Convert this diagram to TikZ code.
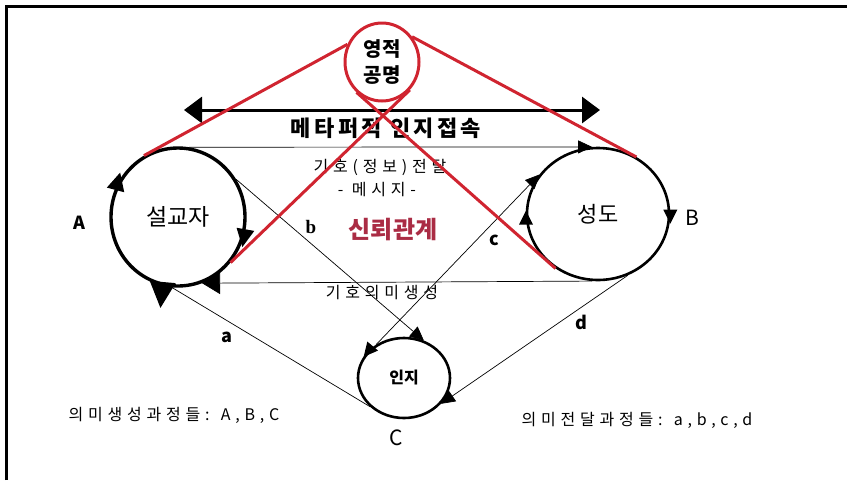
\documentclass[tikz,border=0pt]{standalone}
\usepackage{fontspec}
\setmainfont{Noto Sans CJK KR}
\newfontfamily\serifface{Liberation Serif}
\usepackage{tikz}
\usetikzlibrary{shapes.geometric,arrows.meta,positioning,calc}
\definecolor{spiritred}{RGB}{208,36,48}
\definecolor{trustred}{RGB}{170,44,68}

\begin{document}
\begin{tikzpicture}[x=1pt, y=-1pt,
  party/.style={draw, ellipse, line width=2.6pt, inner sep=0pt},
  tri/.style={isosceles triangle, isosceles triangle stretches, fill=black, inner sep=0pt, minimum width=#1, minimum height=#1},
  conn/.style={line width=0.7pt},
  tip/.style={-{Triangle[length=14pt, width=13pt]}},
  redline/.style={spiritred, line width=3pt},
  fsize/.style={font=\fontsize{#1}{#1}\selectfont},
  fbold/.style={font=\fontsize{#1}{#1}\selectfont\bfseries},
  spaced/.style 2 args={font=\fontsize{#1}{#1}\selectfont\addfontfeature{LetterSpace=#2}}
]

\useasboundingbox (0,0) rectangle (847,480);
\draw[line width=3pt] (6.5,480) -- (6.5,6.5) -- (847,6.5);

\node[party, line width=3.4pt, minimum width=134pt, minimum height=138pt, fsize=23] (A) at (178,217) {설교자};
\node[party, minimum width=142pt, minimum height=132pt, fsize=22] (B) at (598,214) {성도};
\node[party, minimum width=92pt, minimum height=80pt, fbold=16] (C) at (404,378) {인지};

\node[fbold=18] (labA) at (79,223) {A};
\node[fsize=21] (labB) at (692,218) {B};
\node[fsize=21] (labC) at (396,438) {C};

\draw[conn, tip] (A.81) -- (B.95);
\draw[conn, -{Triangle[length=18pt, width=22pt]}] (B.-95) -- (A.-70);
\draw[conn, tip] (A.33) -- (C.62);
\draw[conn, tip] (C.130) -- (B.146);
\draw[conn] (C.-140) -- (A.-95);
\draw[conn, tip] (B.-64) -- (C.-35);

\node[tri=18pt, rotate=75] (arA1) at (A.152) {};
\node[tri=18pt, rotate=-100] (arA2) at (A.-15) {};
\node[tri=26pt, rotate=-95] (arA3) at (162,290) {};
\node[tri=14pt, rotate=90] (arB1) at (B.185) {};
\node[tri=14pt, rotate=-90] (arB2) at (B.0) {};
\node[tri=14pt, rotate=-130] (arC1) at (C.140) {};

\node[fbold=18] (la) at (227,337) {a};
\node[font=\fontsize{19}{19}\selectfont\serifface\bfseries] (lb) at (311,227) {b};
\node[fbold=18] (lc) at (494,240) {c};
\node[fbold=18] (ld) at (581,322) {d};

\coordinate (metaL) at (184,110);
\coordinate (metaR) at (600,110);
\draw[line width=3pt, {Triangle[length=18pt, width=26pt]}-{Triangle[length=18pt, width=26pt]}] (metaL) -- (metaR);
\node[font=\fontsize{22}{22}\selectfont\bfseries\addfontfeature{LetterSpace=15}] (meta) at (386,128) {메타퍼적 인지접속};

\node[spaced={16}{30}] (sign) at (380,167) {기호(정보)전달};
\node[spaced={16}{30}] (msg) at (377,190) {- 메시지-};
\node[fbold=24, text=trustred] (trust) at (393,230) {신뢰관계};
\node[spaced={16}{30}] (mean) at (382,293) {기호의미생성};

\node[spaced={16}{30}] (sumL) at (174,415) {의미생성과정들: A,B,C};
\node[spaced={16}{30}] (sumR) at (637,420) {의미전달과정들: a,b,c,d};

\node[draw=spiritred, ellipse, line width=3pt, inner sep=0pt, minimum width=74pt, minimum height=78pt, align=center, fbold=20] (R) at (382,62) {영적\\[6pt]공명};

\draw[redline] (R.153) -- (A.119);
\draw[redline] (R.40) -- (B.56);
\draw[redline] (R.-45) -- (A.-41);
\draw[redline] (R.-130) -- (B.-128);

\end{tikzpicture}
\end{document}
